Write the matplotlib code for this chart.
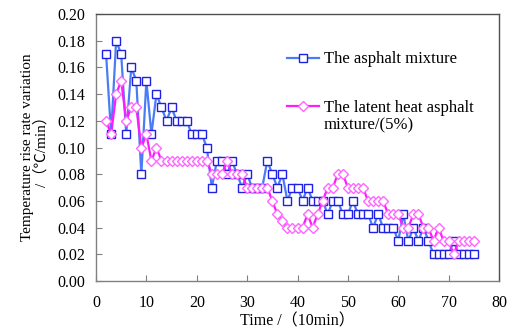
import matplotlib
matplotlib.use('Agg')
import matplotlib.pyplot as plt
import numpy as np

# time points (x 10 min)
time = list(range(2, 76))

# The asphalt mixture
asphalt = [0.17, 0.11, 0.18, 0.17, 0.11, 0.16, 0.15, 0.08, 0.15, 0.11,
           0.14, 0.13, 0.12, 0.13, 0.12, 0.12, 0.12, 0.11, 0.11, 0.11,
           0.10, 0.07, 0.09, 0.09, 0.08, 0.09, 0.08, 0.07, 0.08, 0.07,
           0.07, 0.07, 0.09, 0.08, 0.07, 0.08, 0.06, 0.07, 0.07, 0.06,
           0.07, 0.06, 0.06, 0.06, 0.05, 0.06, 0.06, 0.05, 0.05, 0.06,
           0.05, 0.05, 0.05, 0.04, 0.05, 0.04, 0.04, 0.04, 0.03, 0.05,
           0.03, 0.04, 0.03, 0.04, 0.03, 0.02, 0.02, 0.02, 0.02, 0.03,
           0.02, 0.02, 0.02, 0.02]

# The latent heat asphalt mixture (5%)
latent = [0.12, 0.11, 0.14, 0.15, 0.12, 0.13, 0.13, 0.10, 0.11, 0.09,
          0.10, 0.09, 0.09, 0.09, 0.09, 0.09, 0.09, 0.09, 0.09, 0.09,
          0.09, 0.08, 0.08, 0.08, 0.09, 0.08, 0.08, 0.08, 0.07, 0.07,
          0.07, 0.07, 0.07, 0.06, 0.05, 0.045, 0.04, 0.04, 0.04, 0.04,
          0.05, 0.04, 0.05, 0.06, 0.07, 0.07, 0.08, 0.08, 0.07, 0.07,
          0.07, 0.07, 0.06, 0.06, 0.06, 0.06, 0.05, 0.05, 0.05, 0.04,
          0.04, 0.05, 0.05, 0.04, 0.04, 0.03, 0.04, 0.03, 0.03, 0.02,
          0.03, 0.03, 0.03, 0.03]

xticks = np.arange(0, 81, 10)
yticks = np.arange(0, 0.201, 0.02)

plt.rcParams['font.family'] = ['Liberation Serif', 'Noto Sans CJK SC', 'DejaVu Serif']

fig = plt.figure(figsize=(5.10, 3.36), dpi=100)
ax = fig.add_axes([96/510, 1 - 281/336, 403/510, 267/336])

l1, = ax.plot(time, asphalt, color='#4a7cf5', lw=1.6, marker='s', ms=5.5,
              mfc='white', mec='#1f1fe6', mew=1.0, label='The asphalt mixture')
l2, = ax.plot(time, latent, color='#ff1aff', lw=1.6, marker='D', ms=4.8,
              mfc='white', mec='#ff66ff', mew=1.0,
              label='The latent heat asphalt')

ax.set_xlim(0, 80)
ax.set_ylim(0, 0.20)
ax.set_xticks(xticks)
ax.set_yticks(yticks)
ax.set_yticklabels([f'{v:.2f}' for v in yticks])
ax.tick_params(direction='in', length=4, width=0.8, colors='#808080',
               labelcolor='black', labelsize=11.5)
ax.tick_params(axis='x', pad=10)
ax.tick_params(axis='y', pad=8)
for s in ax.spines.values():
    s.set_color('#808080')
    s.set_linewidth(1.0)
ax.spines['top'].set_color('#505050')
ax.spines['right'].set_color('#505050')

ax.set_xlabel('Time /（10min）', fontsize=11.5, labelpad=2)
ax.set_ylabel('Temperature rise rate variation\n/（℃/min）', fontsize=11,
              labelpad=6, linespacing=1.05)

leg = ax.legend(loc='upper left', bbox_to_anchor=(0.475, 0.86),
                frameon=False, fontsize=12, labelspacing=1.95,
                handlelength=1.9, handletextpad=0.3, borderpad=0,
                borderaxespad=0)

fig.canvas.draw()
bb = leg.get_texts()[1].get_window_extent()
fig.text(bb.x0 / fig.bbox.width, (bb.y0 - 2) / fig.bbox.height,
         'mixture/(5%)', fontsize=12, va='top', ha='left')

fig.savefig('out.png', dpi=100)
